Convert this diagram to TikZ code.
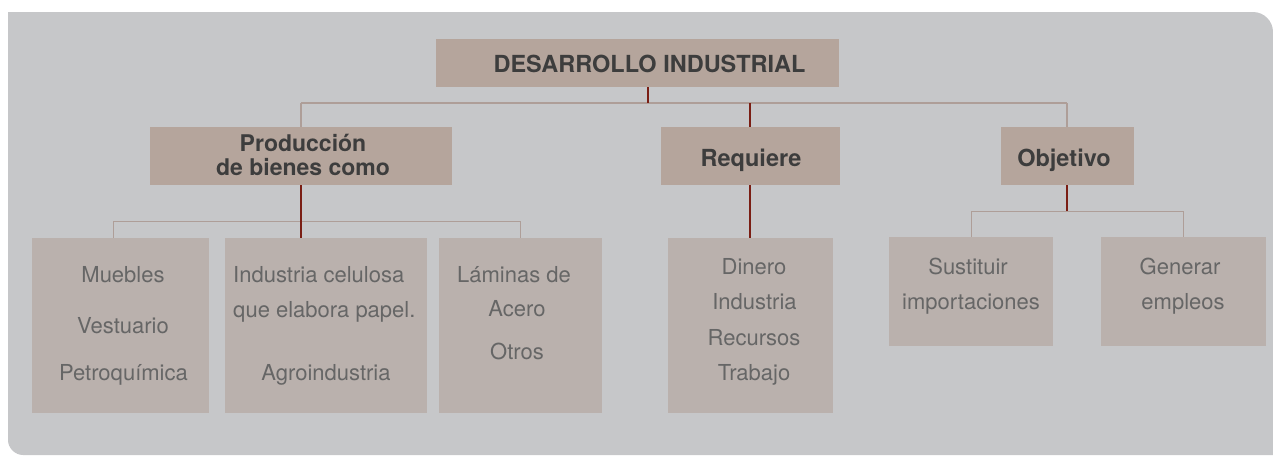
\documentclass[tikz,border=0pt]{standalone}
\usepackage{fontspec}
\setmainfont{TeX Gyre Heros}
\definecolor{bgc}{HTML}{C6C7C9}
\definecolor{hdrc}{HTML}{B5A59C}
\definecolor{boxc}{HTML}{BAB1AD}
\definecolor{hdrtext}{HTML}{3D3D3D}
\definecolor{bodytext}{HTML}{666666}
\definecolor{lightline}{HTML}{AE9E98}
\definecolor{darkline}{HTML}{7A1E14}
\tikzset{
  hdrbox/.style={fill=hdrc, draw=none, inner sep=0pt, minimum height=58pt},
  leafbox/.style={fill=boxc, draw=none, inner sep=0pt},
  hdrlabel/.style={text=hdrtext, font=\bfseries\fontsize{23.5}{20.5}\selectfont, inner sep=0pt, anchor=base},
  bodylabel/.style={text=bodytext, font=\fontsize{22}{26}\selectfont, inner sep=0pt, anchor=base},
  lbus/.style={draw=lightline, line width=1.5pt},
  lwire/.style={draw=lightline, line width=1pt},
  dwire/.style={draw=darkline, line width=1.1pt}
}
\begin{document}
\begin{tikzpicture}[x=1pt,y=-1pt]
\useasboundingbox (0,0) rectangle (1273,455);
% background panel
\fill[bgc] (8,12) -- (1253,12) .. controls (1264,12) and (1273,21) .. (1273,32) -- (1273,455) -- (23,455) .. controls (15,455) and (8,448) .. (8,440) -- cycle;

% header boxes
\node[hdrbox, minimum width=403pt, minimum height=48pt] (top) at (637.5,63) {};
\node[hdrbox, minimum width=302pt] (prod) at (301,156) {};
\node[hdrbox, minimum width=179pt] (req) at (750.5,156) {};
\node[hdrbox, minimum width=133pt] (obj) at (1067.5,156) {};

% leaf boxes
\node[leafbox, minimum width=177pt, minimum height=175pt] (mue) at (120.5,325.5) {};
\node[leafbox, minimum width=202pt, minimum height=175pt] (ind) at (326,325.5) {};
\node[leafbox, minimum width=163pt, minimum height=175pt] (lam) at (520.5,325.5) {};
\node[leafbox, minimum width=165pt, minimum height=175pt] (din) at (750.5,325.5) {};
\node[leafbox, minimum width=164pt, minimum height=109pt] (sus) at (971,291.5) {};
\node[leafbox, minimum width=165pt, minimum height=109pt] (gen) at (1183.5,291.5) {};

% header texts
\node[hdrlabel] (ttop) at (649.5,72) {DESARROLLO INDUSTRIAL};
\node[hdrlabel, anchor=center, align=center, font=\bfseries\fontsize{23}{24}\selectfont] (tprod) at (303,154.5) {Producción\\de bienes como};
\node[hdrlabel] (treq) at (751,166) {Requiere};
\node[hdrlabel] (tobj) at (1064,166) {Objetivo};

% leaf texts
\node[bodylabel] (m1) at (123,282) {Muebles};
\node[bodylabel] (m2) at (123,333) {Vestuario};
\node[bodylabel] (m3) at (123.5,380) {Petroquímica};
\node[bodylabel, anchor=base west] (i1) at (233,282) {Industria celulosa};
\node[bodylabel, anchor=base west] (i2) at (233,317) {que elabora papel.};
\node[bodylabel] (i3) at (326,380) {Agroindustria};
\node[bodylabel] (l1) at (514,282) {Láminas de};
\node[bodylabel] (l2) at (517,316) {Acero};
\node[bodylabel] (l3) at (517,359) {Otros};
\node[bodylabel] (d1) at (754,274) {Dinero};
\node[bodylabel] (d2) at (754.5,309) {Industria};
\node[bodylabel] (d3) at (754,345) {Recursos};
\node[bodylabel] (d4) at (754,380) {Trabajo};
\node[bodylabel] (s1) at (968,274) {Sustituir};
\node[bodylabel] (s2) at (971,309) {importaciones};
\node[bodylabel] (g1) at (1180,274) {Generar};
\node[bodylabel] (g2) at (1183,309) {empleos};

% junction coordinates
\coordinate (j0) at (648,103);
\coordinate (jp) at (301,103);
\coordinate (jr) at (750,103);
\coordinate (jo) at (1067,103);
\coordinate (pa) at (113,221);
\coordinate (pc) at (520,221);
\coordinate (pb) at (301,238);
\coordinate (oa) at (971,211);
\coordinate (ob) at (1183,211);
\coordinate (oc) at (1067,211);

% connectors: light
\draw[lbus] (jp) -- (jo);
\draw[lbus] (jp) -- (jp |- prod.north);
\draw[lbus] (jo) -- (jo |- obj.north);
\draw[lwire] (pa) -- (pc);
\draw[lwire] (pa) -- (pa |- mue.north);
\draw[lwire] (pc) -- (pc |- lam.north);
\draw[lwire] (oa) -- (ob);
\draw[lwire] (oa) -- (oa |- sus.north);
\draw[lwire] (ob) -- (ob |- gen.north);
% connectors: dark
\draw[dwire] (j0 |- top.south) -- (j0);
\draw[dwire] (jr) -- (jr |- req.north);
\draw[dwire] (jp |- prod.south) -- (pb |- ind.north);
\draw[dwire] (jr |- req.south) -- (jr |- din.north);
\draw[dwire] (oc |- obj.south) -- (oc);
\end{tikzpicture}
\end{document}
